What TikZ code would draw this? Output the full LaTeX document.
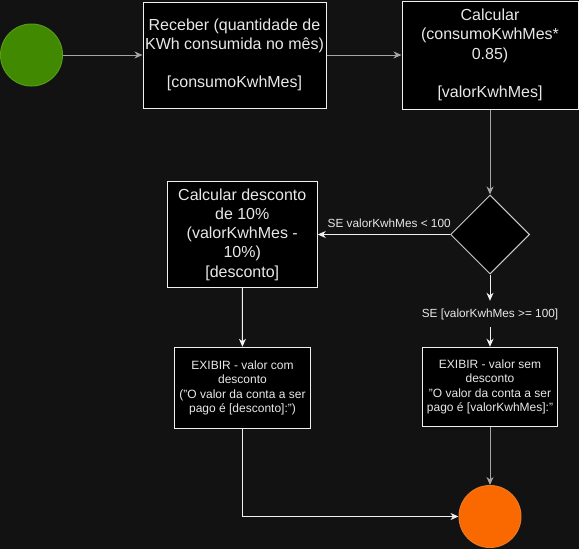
\documentclass[tikz,border=0pt]{standalone}
\usepackage{fontspec}
\setmainfont{Liberation Sans}
\usepackage{tikz}
\usetikzlibrary{arrows.meta, shapes.geometric}

\definecolor{fundo}{RGB}{18,18,18}
\definecolor{texto}{RGB}{232,232,232}
\definecolor{borda}{RGB}{240,240,240}
\definecolor{cinza}{RGB}{165,165,165}
\definecolor{verde}{RGB}{64,137,0}
\definecolor{verdeborda}{RGB}{84,155,24}
\definecolor{laranja}{RGB}{250,105,0}
\definecolor{laranjaborda}{RGB}{236,122,34}

\begin{document}
\begin{tikzpicture}[x=1pt, y=-1pt,
    caixa/.style={rectangle, draw=borda, fill=black, line width=1pt, text=texto, align=center, inner sep=0pt, font=\fontsize{16}{19.2}\selectfont},
    caixap/.style={caixa, font=\fontsize{12}{14.5}\selectfont},
    rotulo/.style={text=texto, inner sep=1pt, font=\fontsize{11.8}{14}\selectfont},
    seta/.style={-{Stealth[length=8pt, width=7pt, inset=2.5pt]}, line width=1pt, draw=borda},
    setacinza/.style={seta, draw=cinza}]
    \fill[fundo] (0,0) rectangle (579,549);
    \useasboundingbox (0,0) rectangle (579,549);
    \node[circle, fill=verde, draw=verdeborda, line width=1pt, minimum size=62pt, inner sep=0pt] (inicio) at (31.5, 55) {};
    \node[caixa, minimum width=183pt, minimum height=106pt] (receber) at (234.5, 55) {Receber (quantidade de\\KWh consumida no mês)\\[19.2pt]{[consumoKwhMes]}};
    \node[caixa, minimum width=176pt, minimum height=108pt] (calcular) at (490, 55) {Calcular\\(consumoKwhMes*\\0.85)\\[19.2pt]{[valorKwhMes]}};
    \node[diamond, draw=borda!85!black, fill=black, line width=1pt, minimum width=79pt, minimum height=79pt, inner sep=0pt] (decisao) at (490, 234.5) {};
    \node[caixa, minimum width=150pt, minimum height=105.5pt] (desconto) at (242.25, 234.5) {Calcular desconto\\de 10\%\\(valorKwhMes -\\10\%)\\{[desconto]}};
    \node[rotulo, minimum height=26pt, inner sep=0pt] (seMaior) at (490, 314) {SE [valorKwhMes >= 100]};
    \node[caixap, minimum width=136.5pt, minimum height=81.5pt] (exibirCom) at (242.5, 388) {EXIBIR - valor com\\desconto\\("O valor da conta a ser\\pago é [desconto]:")};
    \node[caixap, minimum width=135.5pt, minimum height=79.5pt] (exibirSem) at (490, 387) {EXIBIR - valor sem\\desconto\\"O valor da conta a ser\\pago é [valorKwhMes]:"};
    \node[circle, fill=laranja, draw=laranjaborda, line width=1pt, minimum size=62pt, inner sep=0pt] (fim) at (490, 516.5) {};
    \draw[setacinza] (inicio) -- (receber);
    \draw[setacinza] (receber) -- (calcular);
    \draw[setacinza] (calcular) -- (decisao);
    \draw[seta] (decisao.west) -- node[rotulo, pos=0.46, above=5pt] {SE valorKwhMes < 100} (desconto.east);
    \draw[seta] (decisao.south) -- (seMaior.north);
    \draw[seta] (seMaior.south) -- (exibirSem.north);
    \draw[seta] (desconto) -- (exibirCom);
    \draw[seta] (exibirCom.south) |- (fim.west);
    \draw[setacinza] (exibirSem) -- (fim);
\end{tikzpicture}
\end{document}
